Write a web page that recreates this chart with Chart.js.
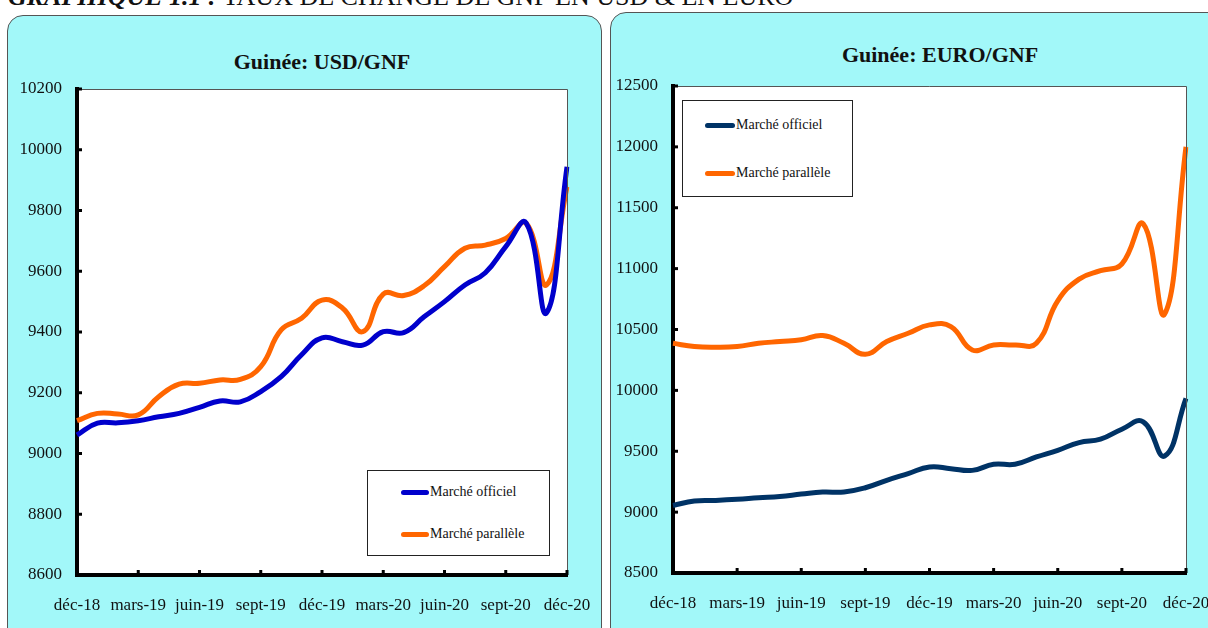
<!DOCTYPE html>
<html lang="fr">
<head>
    <meta charset="UTF-8">
    <title>Taux de change GNF</title>
    <script src="https://cdn.jsdelivr.net/npm/chart.js"></script>
    <style>
        body { margin: 0; width: 1208px; height: 628px; overflow: hidden; background: #fff; position: relative; font-family: "Liberation Serif", serif; }
        .entete { position: absolute; left: 8px; top: -16px; font-size: 26px; line-height: 1; white-space: nowrap; color: #111; }
        .entete b { font-style: italic; }
        .panneau { position: absolute; background: #a2f8f9; border: 1px solid #555; border-radius: 16px; }
        .zone { position: absolute; }
        .titre { position: absolute; font-weight: bold; font-size: 22px; text-align: center; white-space: nowrap; color: #111; transform: translate(-50%, -50%); }
        .legende { position: absolute; background: #fff; border: 1px solid #222; box-sizing: border-box; }
        .legende .item { position: absolute; display: flex; align-items: center; font-family: "Liberation Serif", serif; font-size: 14px; color: #111; white-space: nowrap; transform: translateY(-50%); }
        .legende .trait { display: inline-block; height: 5px; border-radius: 3px; margin-right: 1px; }
    </style>
</head>
<body>
    <div class="entete"><b>GRAPHIQUE 1.1 :</b> TAUX DE CHANGE DE GNF EN USD &amp; EN EURO</div>

    <div class="panneau" style="left:7px; top:15px; width:593px; height:640px;"></div>
    <div class="panneau" style="left:610px; top:12px; width:620px; height:640px;"></div>

    <div class="titre" style="left:322px; top:62px;">Guinée: USD/GNF</div>
    <div class="titre" style="left:940px; top:55px;">Guinée: EURO/GNF</div>

    <canvas id="graphUsd" class="zone" style="left:7px; top:15px;" width="594" height="613"></canvas>
    <canvas id="graphEuro" class="zone" style="left:610px; top:12px;" width="598" height="616"></canvas>

    <div id="legUsd" class="legende" style="left:367px; top:470px; width:183px; height:86px;"></div>
    <div id="legEuro" class="legende" style="left:682px; top:100px; width:171px; height:97px;"></div>

    <script>
        // mois de déc-18 à déc-20
        const mois = ['déc-18','janv-19','févr-19','mars-19','avr-19','mai-19','juin-19','juil-19','août-19','sept-19','oct-19','nov-19',
                      'déc-19','janv-20','févr-20','mars-20','avr-20','mai-20','juin-20','juil-20','août-20','sept-20','oct-20','nov-20','déc-20'];

        const usdOfficiel  = [9061,9100,9101,9108,9121,9132,9152,9173,9170,9204,9253,9325,9381,9368,9357,9401,9398,9450,9500,9555,9595,9681,9759,9463,9944];
        const usdParallele = [9108,9132,9130,9127,9187,9228,9231,9242,9244,9286,9407,9445,9505,9479,9401,9525,9520,9552,9615,9676,9686,9708,9758,9555,9878];

        const euroOfficiel  = [9055,9091,9096,9105,9118,9129,9148,9165,9165,9200,9261,9316,9371,9357,9343,9393,9393,9453,9508,9571,9599,9681,9742,9461,9934];
        const euroParallele = [10387,10360,10354,10360,10387,10401,10415,10450,10387,10296,10401,10469,10538,10524,10332,10373,10373,10387,10736,10914,10983,11038,11368,10626,12000];

        const usdTicks = { min: 8600, max: 10200, pas: 200 };
        const euroTicks = { min: 8500, max: 12500, pas: 500 };

        const police = { family: "'Liberation Serif', serif", size: 17 };

        // fond blanc, cadre gris et petites graduations vers l'intérieur
        const cadre = {
            id: 'cadre',
            beforeDraw(chart) {
                const { ctx, chartArea: a } = chart;
                ctx.save();
                ctx.fillStyle = '#fff';
                ctx.fillRect(a.left, a.top, a.right - a.left, a.bottom - a.top);
                ctx.restore();
            },
            afterDraw(chart) {
                const { ctx, chartArea: a, scales } = chart;
                ctx.save();
                ctx.strokeStyle = '#555';
                ctx.lineWidth = 1;
                ctx.beginPath();
                ctx.moveTo(a.left, a.top + 0.5);
                ctx.lineTo(a.right + 0.5, a.top + 0.5);
                ctx.lineTo(a.right + 0.5, a.bottom);
                ctx.stroke();

                ctx.strokeStyle = '#000';
                ctx.lineWidth = 3;
                scales.y.ticks.forEach((t, i) => {
                    const y = scales.y.getPixelForTick(i);
                    ctx.beginPath();
                    ctx.moveTo(a.left, y);
                    ctx.lineTo(a.left + 5, y);
                    ctx.stroke();
                });
                mois.forEach((m, i) => {
                    if (i % 3 !== 0) return;
                    const x = scales.x.getPixelForValue(i);
                    ctx.beginPath();
                    ctx.moveTo(x, a.bottom);
                    ctx.lineTo(x, a.bottom - 5);
                    ctx.stroke();
                });
                ctx.restore();
            }
        };

        function creerGraphique(id, series, couleurs, bornes, marges) {
            const ctx = document.getElementById(id).getContext('2d');
            return new Chart(ctx, {
                type: 'line',
                data: {
                    labels: mois,
                    datasets: series.map((s, i) => ({
                        label: s.nom,
                        data: s.valeurs,
                        borderColor: couleurs[i],
                        backgroundColor: couleurs[i],
                        borderWidth: 5,
                        pointRadius: 0,
                        tension: 0.45,
                        fill: false
                    }))
                },
                options: {
                    responsive: false,
                    animation: false,
                    layout: { padding: { top: marges.haut, right: marges.droite, left: 0, bottom: 0 } },
                    plugins: { legend: { display: false }, tooltip: { enabled: false } },
                    scales: {
                        x: {
                            offset: false,
                            grid: { display: true, drawOnChartArea: false, drawTicks: false },
                            border: { display: true, color: '#000', width: 4 },
                            ticks: {
                                autoSkip: false, maxRotation: 0, padding: 20, color: '#111', font: police,
                                callback: (v, i) => (i % 3 === 0 ? mois[i] : '')
                            },
                            afterFit: s => { s.height = marges.bas; s.paddingLeft = 0; s.paddingRight = 0; }
                        },
                        y: {
                            min: bornes.min, max: bornes.max,
                            grid: { display: true, drawOnChartArea: false, drawTicks: false },
                            border: { display: true, color: '#000', width: 4 },
                            ticks: { stepSize: bornes.pas, padding: 15, color: '#111', font: police, callback: v => String(v) },
                            afterFit: s => { s.width = marges.gauche; s.paddingTop = 0; s.paddingBottom = 0; }
                        }
                    }
                },
                plugins: [cadre]
            });
        }

        function remplirLegende(id, chart, pos) {
            const boite = document.getElementById(id);
            chart.data.datasets.forEach((d, i) => {
                const item = document.createElement('div');
                item.className = 'item';
                item.style.left = pos.x + 'px';
                item.style.top = pos.y[i] + 'px';
                item.innerHTML = '<span class="trait" style="width:' + pos.trait + 'px;background:' + d.borderColor + '"></span>' + d.label;
                boite.appendChild(item);
            });
        }

        function dessiner() {
            const graphUsd = creerGraphique('graphUsd',
                [{ nom: 'Marché officiel', valeurs: usdOfficiel }, { nom: 'Marché parallèle', valeurs: usdParallele }],
                ['#0000cc', '#ff6600'], usdTicks,
                { haut: 74, droite: 34, gauche: 70, bas: 53 });

            const graphEuro = creerGraphique('graphEuro',
                [{ nom: 'Marché officiel', valeurs: euroOfficiel }, { nom: 'Marché parallèle', valeurs: euroParallele }],
                ['#003366', '#ff6600'], euroTicks,
                { haut: 74, droite: 22, gauche: 63, bas: 55 });

            remplirLegende('legUsd', graphUsd, { x: 33, y: [21, 63], trait: 28 });
            remplirLegende('legEuro', graphEuro, { x: 22, y: [24, 72], trait: 30 });
        }

        // attendre la police avant de dessiner sur le canvas
        document.fonts.load("17px 'Liberation Serif'").then(dessiner, dessiner);
    </script>
</body>
</html>
